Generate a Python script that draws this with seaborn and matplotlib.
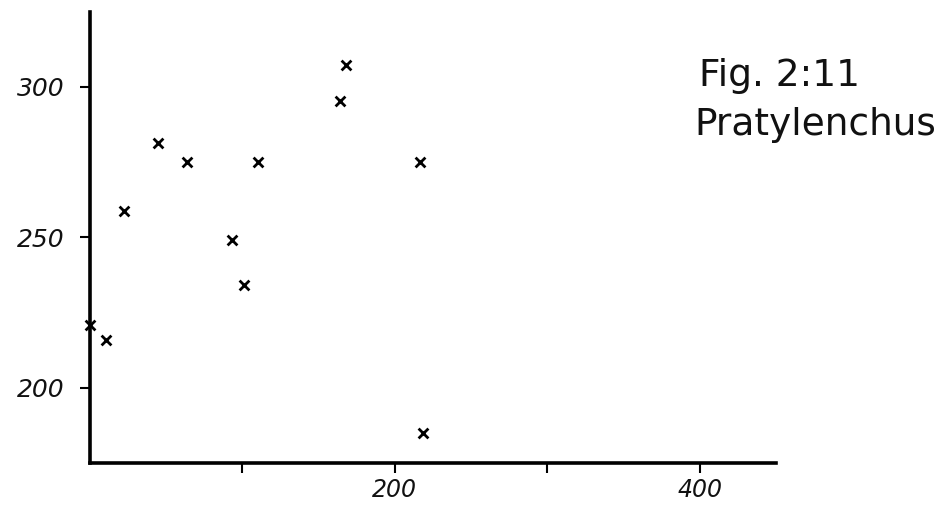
import matplotlib
matplotlib.use("Agg")
import matplotlib.pyplot as plt
import seaborn as sns
import pandas as pd

# Data
x_vals = [0, 10.6, 22, 44.9, 63.5, 93.2, 100.9, 110, 164, 168, 216.7, 218.3]
y_vals = [221.0, 216.0, 258.6, 281.2, 275.1, 249.0, 234.0, 275.1, 295.3, 307.4, 274.9, 185.1]
x_ticks = [100, 200, 300, 400]
x_tick_labels = ["", "200", "", "400"]
y_ticks = [200, 250, 300]
y_tick_labels = ["200", "250", "300"]
title_lines = ["Fig. 2:11", "Pratylenchus"]

df = pd.DataFrame({"x": x_vals, "y": y_vals})

sns.set_theme(style="white")
plt.rcParams["font.family"] = ["DejaVu Sans"]

fig = plt.figure(figsize=(9.49, 5.16), dpi=100)
ax = fig.add_axes([0.0948, 0.1027, 0.7229, 0.8746])

sns.scatterplot(data=df, x="x", y="y", ax=ax, marker="x", s=50,
                color="black", linewidth=2.0, zorder=3, clip_on=False)

ax.set_xlim(0, 450)
ax.set_ylim(175, 325)
ax.set_xticks(x_ticks)
ax.set_xticklabels(x_tick_labels, fontsize=17, style="italic")
ax.set_yticks(y_ticks)
ax.set_yticklabels(y_tick_labels, fontsize=18, style="italic")
ax.tick_params(axis="both", which="both", direction="out", length=7, width=1.5,
               color="black", labelcolor="#111111", bottom=True, left=True)
ax.tick_params(axis="x", pad=4)
ax.tick_params(axis="y", pad=11)

for side in ["top", "right"]:
    ax.spines[side].set_visible(False)
for side in ["left", "bottom"]:
    ax.spines[side].set_color("black")
    ax.spines[side].set_linewidth(2.6)

ax.set_xlabel("")
ax.set_ylabel("")

fig.text(0.7366, 0.833, title_lines[0], fontsize=27, color="#111111", ha="left", va="baseline")
fig.text(0.732, 0.738, title_lines[1], fontsize=27, color="#111111", ha="left", va="baseline")

fig.savefig("out.png", dpi=100, facecolor="white")
